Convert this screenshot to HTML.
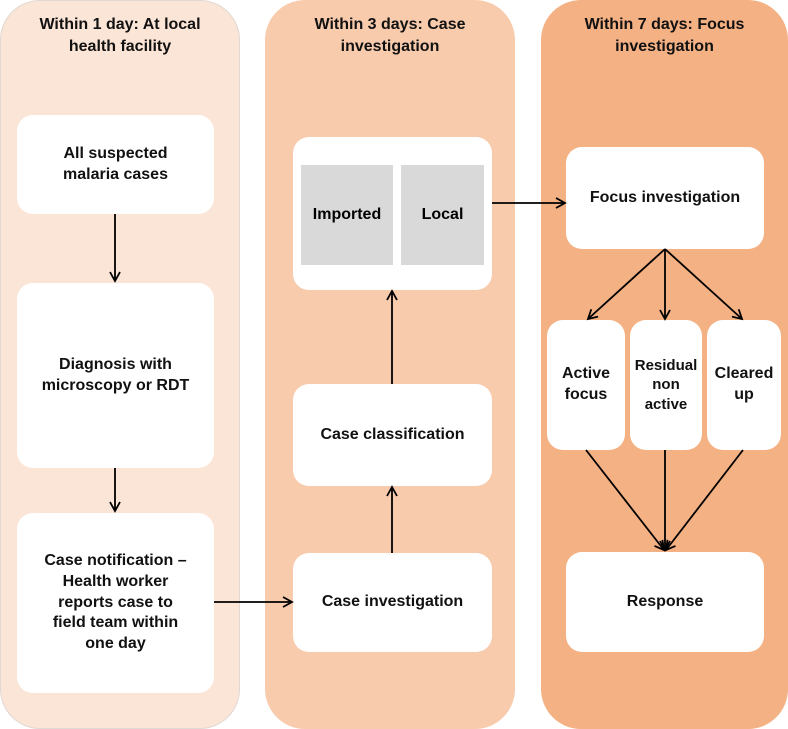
<!DOCTYPE html>
<html><head><style>
body{margin:0;width:788px;height:729px;background:#fff;font-family:"Liberation Sans",sans-serif;overflow:hidden;position:relative}
.p{position:absolute;top:0;height:729px;border-radius:40px}
.b{position:absolute;background:#fff;border-radius:16px;display:flex;align-items:center;justify-content:center;text-align:center;font-weight:bold;font-size:16px;line-height:1.3;color:#111}
.h{position:absolute;top:14px;text-align:center;font-weight:bold;font-size:16px;line-height:1.4;color:#111}
.g{position:absolute;background:#d9d9d9;display:flex;align-items:center;justify-content:center;font-weight:bold;font-size:16px}
</style></head><body>
<div class="p" style="left:0;width:240px;background:#fbe5d6;border:1px solid #e0d8d2;box-sizing:border-box"></div>
<div class="p" style="left:265px;width:250px;background:#f8cbad"></div>
<div class="p" style="left:541px;width:247px;background:#f4b183"></div>
<div class="h" style="left:0;width:240px">Within 1 day: At local<br>health facility</div>
<div class="h" style="left:265px;width:250px">Within 3 days: Case<br>investigation</div>
<div class="h" style="left:541px;width:247px">Within 7 days: Focus<br>investigation</div>
<div class="b" style="left:17px;top:115px;width:197px;height:99px">All suspected<br>malaria cases</div>
<div class="b" style="left:17px;top:283px;width:197px;height:185px">Diagnosis with<br>microscopy or RDT</div>
<div class="b" style="left:17px;top:513px;width:197px;height:180px">Case notification –<br>Health worker<br>reports case to<br>field team within<br>one day</div>
<div class="b" style="left:293px;top:137px;width:199px;height:153px"></div>
<div class="g" style="left:301px;top:165px;width:92px;height:100px">Imported</div>
<div class="g" style="left:401px;top:165px;width:83px;height:100px">Local</div>
<div class="b" style="left:293px;top:384px;width:199px;height:102px">Case classification</div>
<div class="b" style="left:293px;top:553px;width:199px;height:99px">Case investigation</div>
<div class="b" style="left:566px;top:147px;width:198px;height:102px">Focus investigation</div>
<div class="b" style="left:547px;top:320px;width:78px;height:130px">Active<br>focus</div>
<div class="b" style="left:630px;top:320px;width:72px;height:130px;font-size:15px">Residual<br>non<br>active</div>
<div class="b" style="left:707px;top:320px;width:74px;height:130px">Cleared<br>up</div>
<div class="b" style="left:566px;top:552px;width:198px;height:100px">Response</div>
<svg width="788" height="729" style="position:absolute;left:0;top:0">
<defs><marker id="a" markerWidth="12" markerHeight="12" refX="10" refY="6" orient="auto" markerUnits="userSpaceOnUse"><path d="M1,1 L10,6 L1,11" fill="none" stroke="#000" stroke-width="1.8"/></marker></defs>
<g stroke="#000" stroke-width="1.8" fill="none" marker-end="url(#a)">
<line x1="115" y1="214" x2="115" y2="281"/>
<line x1="115" y1="468" x2="115" y2="511"/>
<line x1="214" y1="602" x2="292" y2="602"/>
<line x1="392" y1="553" x2="392" y2="487"/>
<line x1="392" y1="384" x2="392" y2="291"/>
<line x1="492" y1="203" x2="565" y2="203"/>
<line x1="665" y1="249" x2="588" y2="319"/>
<line x1="665" y1="249" x2="665" y2="319"/>
<line x1="665" y1="249" x2="742" y2="319"/>
<line x1="586" y1="450" x2="664" y2="550"/>
<line x1="665" y1="450" x2="665" y2="550"/>
<line x1="743" y1="450" x2="666" y2="550"/>
</g></svg>
</body></html>
